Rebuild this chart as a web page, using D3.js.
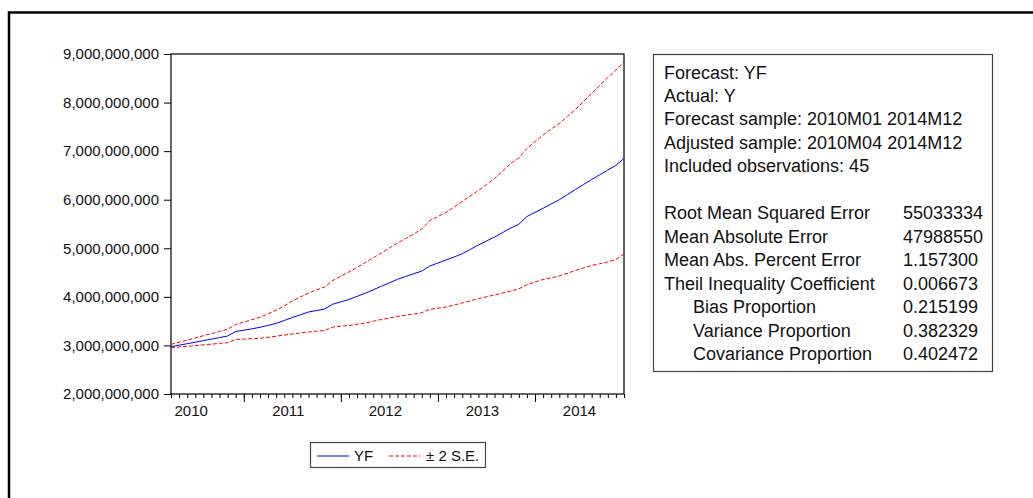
<!DOCTYPE html>
<html><head><meta charset="utf-8">
<script src="https://cdn.jsdelivr.net/npm/d3@7"></script>
<style>
body{margin:0;background:#fff}
svg{display:block;font-family:"Liberation Sans",Arial,Helvetica,sans-serif}
</style>
</head><body><svg id="c" width="1033" height="498"></svg>
<script>
// ---------- DATA ----------
const months = [
 "2010M04","2010M05","2010M06","2010M07","2010M08","2010M09","2010M10","2010M11","2010M12",
 "2011M01","2011M02","2011M03","2011M04","2011M05","2011M06","2011M07","2011M08","2011M09","2011M10","2011M11","2011M12",
 "2012M01","2012M02","2012M03","2012M04","2012M05","2012M06","2012M07","2012M08","2012M09","2012M10","2012M11","2012M12",
 "2013M01","2013M02","2013M03","2013M04","2013M05","2013M06","2013M07","2013M08","2013M09","2013M10","2013M11","2013M12",
 "2014M01","2014M02","2014M03","2014M04","2014M05","2014M06","2014M07","2014M08","2014M09","2014M10","2014M11","2014M12"];
// values in billions
const yf = [2.974,3.005,3.036,3.066,3.099,3.130,3.161,3.194,3.287,
 3.314,3.342,3.373,3.412,3.454,3.513,3.575,3.631,3.688,3.719,3.750,3.849,
 3.898,3.946,4.010,4.073,4.145,4.219,4.289,4.362,4.419,4.475,4.532,4.635,
 4.697,4.759,4.821,4.887,4.977,5.068,5.150,5.232,5.325,5.418,5.494,5.655,
 5.739,5.825,5.912,6.000,6.105,6.210,6.313,6.416,6.513,6.612,6.705,6.853];
const upper = [3.023,3.066,3.112,3.155,3.200,3.244,3.289,3.332,3.431,
 3.480,3.530,3.579,3.651,3.725,3.812,3.915,3.997,4.079,4.141,4.203,4.337,
 4.425,4.512,4.609,4.703,4.804,4.903,5.006,5.109,5.202,5.294,5.397,5.572,
 5.655,5.737,5.850,5.963,6.077,6.190,6.313,6.437,6.591,6.746,6.859,7.055,
 7.195,7.333,7.452,7.569,7.713,7.858,8.022,8.187,8.352,8.516,8.671,8.842];
const lower = [2.953,2.968,2.982,2.997,3.013,3.027,3.042,3.056,3.122,
 3.130,3.139,3.147,3.169,3.190,3.213,3.235,3.256,3.277,3.293,3.307,3.379,
 3.396,3.410,3.437,3.462,3.499,3.534,3.565,3.596,3.622,3.647,3.674,3.744,
 3.767,3.791,3.832,3.874,3.919,3.962,4.001,4.038,4.079,4.121,4.162,4.254,
 4.306,4.357,4.392,4.429,4.487,4.543,4.594,4.646,4.683,4.718,4.769,4.882];
const yTicks = [2,3,4,5,6,7,8,9];
const yearLabels = ["2010","2011","2012","2013","2014"];
const legendLabels = ["YF","\u00B1 2 S.E."];
const statsHeader = ["Forecast: YF","Actual: Y","Forecast sample: 2010M01 2014M12",
 "Adjusted sample: 2010M04 2014M12","Included observations: 45"];
const statsNames = ["Root Mean Squared Error","Mean Absolute Error","Mean Abs. Percent Error",
 "Theil Inequality Coefficient","Bias Proportion","Variance Proportion","Covariance Proportion"];
const statsValues = ["55033334","47988550","1.157300","0.006673","0.215199","0.382329","0.402472"];
const statsIndent = [0,0,0,0,1,1,1];

// ---------- DRAW ----------
const svg = d3.select("#c");
svg.append("rect").attr("width",1033).attr("height",498).attr("fill","#fff");

// outer frame (top & left visible)
svg.append("line").attr("x1",8).attr("x2",1033).attr("y1",12.5).attr("y2",12.5)
  .attr("stroke","#000").attr("stroke-width",2.5);
svg.append("line").attr("x1",9).attr("x2",9).attr("y1",11.5).attr("y2",498)
  .attr("stroke","#000").attr("stroke-width",2.5);

const L=171, R=624, T=54, B=394;
const x = d3.scalePoint().domain(months).range([L,R]).padding(0);
const y = d3.scaleLinear().domain([2,9]).range([B,T]);

// y axis
const yAxis = svg.append("g").attr("transform",`translate(${L},0)`)
  .call(d3.axisLeft(y).tickValues(yTicks).tickSize(7).tickPadding(5)
     .tickFormat(d=>d3.format(",")(Math.round(d*1e9))));
yAxis.select(".domain").remove();
yAxis.selectAll("text").attr("font-size",15).attr("fill","#111").attr("font-family",null);

// x minor ticks
const xMinor = svg.append("g").attr("transform",`translate(0,${B})`)
  .call(d3.axisBottom(x).tickValues(months).tickSize(4).tickFormat(""));
xMinor.select(".domain").remove();
const xMajor = svg.append("g").attr("transform",`translate(0,${B})`)
  .call(d3.axisBottom(x).tickValues(months.filter(m=>m.endsWith("M01"))).tickSize(8).tickFormat(""));
xMajor.select(".domain").remove();

// year labels
const firstYear = +months[0].slice(0,4), firstMon = +months[0].slice(5);
svg.append("g").selectAll("text").data(yearLabels).join("text")
  .attr("x", d => x(months[0]) + (((+d-firstYear)*12-(firstMon-1)) + 5.5)*x.step())
  .attr("y", 416).attr("text-anchor","middle").attr("font-size",15).attr("fill","#111")
  .text(d=>d);

// plot box
svg.append("rect").attr("x",L).attr("y",T).attr("width",R-L).attr("height",B-T)
  .attr("fill","none").attr("stroke","#000").attr("stroke-width",1.2);

// lines
const line = d3.line().x((d,i)=>x(months[i])).y(d=>y(d));
svg.append("path").datum(upper).attr("d",line).attr("fill","none")
  .attr("stroke","#ff0000").attr("stroke-width",1).attr("stroke-dasharray","4,2");
svg.append("path").datum(lower).attr("d",line).attr("fill","none")
  .attr("stroke","#ff0000").attr("stroke-width",1).attr("stroke-dasharray","4,2");
svg.append("path").datum(yf).attr("d",line).attr("fill","none")
  .attr("stroke","#0000ff").attr("stroke-width",1);

// legend
const lg = svg.append("g");
lg.append("rect").attr("x",310.5).attr("y",442.5).attr("width",175).attr("height",25)
  .attr("fill","#fff").attr("stroke","#444").attr("stroke-width",1.2);
lg.append("line").attr("x1",317).attr("x2",349).attr("y1",456).attr("y2",456)
  .attr("stroke","#0000ff").attr("stroke-width",1);
lg.append("text").attr("x",354).attr("y",461).attr("font-size",15).attr("fill","#111").text(legendLabels[0]);
lg.append("line").attr("x1",389).attr("x2",420).attr("y1",456).attr("y2",456)
  .attr("stroke","#ff0000").attr("stroke-width",1).attr("stroke-dasharray","4,2");
lg.append("text").attr("x",426).attr("y",461).attr("font-size",15).attr("fill","#111").text(legendLabels[1]);

// stats box
const sb = svg.append("g");
sb.append("rect").attr("x",653.5).attr("y",54.5).attr("width",339).attr("height",317)
  .attr("fill","#fff").attr("stroke","#444").attr("stroke-width",1.2);
const base0 = 78.5, lh = 23.46;
sb.selectAll("text.h").data(statsHeader).join("text").attr("class","h")
  .attr("x",664).attr("y",(d,i)=>base0+i*lh).attr("font-size",18).attr("fill","#111").text(d=>d);
sb.selectAll("text.n").data(statsNames).join("text").attr("class","n")
  .attr("x",(d,i)=>statsIndent[i]?693:664).attr("y",(d,i)=>base0+(i+6)*lh)
  .attr("font-size",18).attr("fill","#111").text(d=>d);
sb.selectAll("text.v").data(statsValues).join("text").attr("class","v")
  .attr("x",903).attr("y",(d,i)=>base0+(i+6)*lh)
  .attr("font-size",18).attr("fill","#111").text(d=>d);
</script>
</body></html>
